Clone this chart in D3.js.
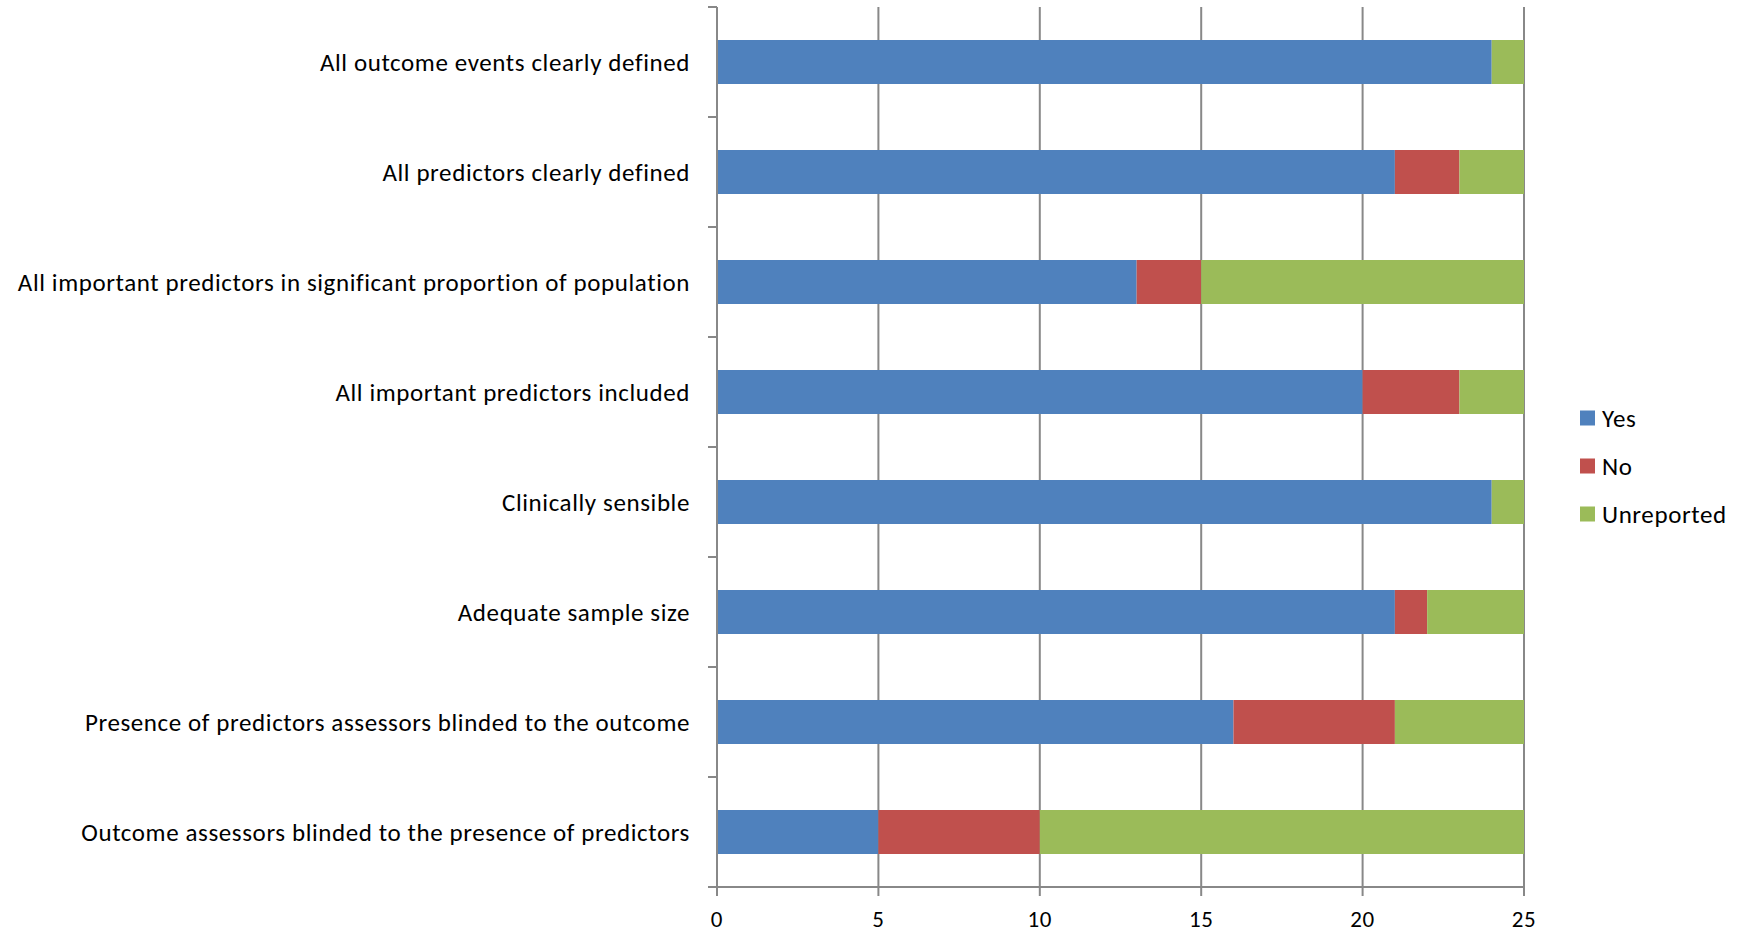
<!DOCTYPE html>
<html>
<head>
<meta charset="utf-8">
<script src="https://cdn.jsdelivr.net/npm/d3@7"></script>
<style>
  html, body { margin: 0; padding: 0; background: #fff; }
  text { font-family: Carlito, Lato, "Open Sans", sans-serif; fill: #000; font-size: 25px; letter-spacing: 0.6px; }
</style>
</head>
<body>
<svg id="chart" width="1748" height="933"></svg>
<script>
// Quality criteria, top to bottom
const categories = [
  "All outcome events clearly defined",
  "All predictors clearly defined",
  "All important predictors in significant proportion of population",
  "All important predictors included",
  "Clinically sensible",
  "Adequate sample size",
  "Presence of predictors assessors blinded to the outcome",
  "Outcome assessors blinded to the presence of predictors"
];
const seriesNames = ["Yes", "No", "Unreported"];
const yesValues        = [24, 21, 13, 20, 24, 21, 16, 5];
const noValues         = [0, 2, 2, 3, 0, 1, 5, 5];
const unreportedValues = [1, 2, 10, 2, 1, 3, 4, 15];
const xTicks = [0, 5, 10, 15, 20, 25];
const colors = ["#4F81BD", "#C0504D", "#9BBB59"];

const rows = categories.map((c, i) => ({
  category: c, Yes: yesValues[i], No: noValues[i], Unreported: unreportedValues[i]
}));

const svg = d3.select("#chart");
const plotLeft = 717, plotRight = 1524, plotTop = 7, plotBottom = 887;

const x = d3.scaleLinear().domain([0, 25]).range([plotLeft, plotRight]);
const y = d3.scaleBand().domain(categories).range([plotTop, plotBottom]).paddingInner(0.6).paddingOuter(0.3);
const yBands = d3.scaleBand().domain(categories).range([plotTop, plotBottom]);

const gridColor = "#888888";

// Vertical gridlines
svg.append("g").selectAll("line")
  .data(xTicks.filter(t => t > 0))
  .join("line")
  .attr("x1", d => x(d)).attr("x2", d => x(d))
  .attr("y1", plotTop).attr("y2", plotBottom)
  .attr("stroke", gridColor).attr("stroke-width", 2);

// Stacked bars
const stack = d3.stack().keys(seriesNames)(rows);
svg.append("g").selectAll("g")
  .data(stack)
  .join("g")
  .attr("fill", (d, i) => colors[i])
  .selectAll("rect")
  .data(d => d.filter(s => s[1] - s[0] > 0))
  .join("rect")
  .attr("x", d => x(d[0]))
  .attr("width", d => x(d[1]) - x(d[0]))
  .attr("y", d => y(d.data.category))
  .attr("height", y.bandwidth());

// Category axis (left)
const yAxis = svg.append("g");
yAxis.append("line")
  .attr("x1", plotLeft).attr("x2", plotLeft).attr("y1", plotTop).attr("y2", plotBottom)
  .attr("stroke", gridColor).attr("stroke-width", 2);
const boundaries = categories.map(c => yBands(c)).concat([plotBottom]);
yAxis.selectAll("line.tick")
  .data(boundaries)
  .join("line")
  .attr("class", "tick")
  .attr("x1", plotLeft - 9).attr("x2", plotLeft)
  .attr("y1", d => d).attr("y2", d => d)
  .attr("stroke", gridColor).attr("stroke-width", 2);
yAxis.selectAll("text")
  .data(categories)
  .join("text")
  .attr("x", 690)
  .attr("y", d => yBands(d) + yBands.bandwidth() / 2)
  .attr("text-anchor", "end")
  .attr("dominant-baseline", "central")
  .text(d => d);

// Value axis (bottom)
const xAxis = svg.append("g");
xAxis.append("line")
  .attr("x1", plotLeft - 9).attr("x2", plotRight).attr("y1", plotBottom).attr("y2", plotBottom)
  .attr("stroke", gridColor).attr("stroke-width", 2);
xAxis.selectAll("line.tick")
  .data(xTicks)
  .join("line")
  .attr("class", "tick")
  .attr("x1", d => x(d)).attr("x2", d => x(d))
  .attr("y1", plotBottom).attr("y2", plotBottom + 9)
  .attr("stroke", gridColor).attr("stroke-width", 2);
xAxis.selectAll("text")
  .data(xTicks)
  .join("text")
  .attr("x", d => x(d))
  .attr("y", 927)
  .attr("text-anchor", "middle")
  .style("font-size", "23px")
  .text(d => d);

// Legend
const legend = svg.append("g");
const legendItems = legend.selectAll("g")
  .data(seriesNames)
  .join("g")
  .attr("transform", (d, i) => `translate(1580, ${418 + i * 48})`);
legendItems.append("rect")
  .attr("x", 0).attr("y", -7.5).attr("width", 15).attr("height", 15)
  .attr("fill", (d, i) => colors[i]);
legendItems.append("text")
  .attr("x", 22).attr("y", 0)
  .attr("dominant-baseline", "central")
  .text(d => d);
</script>
</body>
</html>
